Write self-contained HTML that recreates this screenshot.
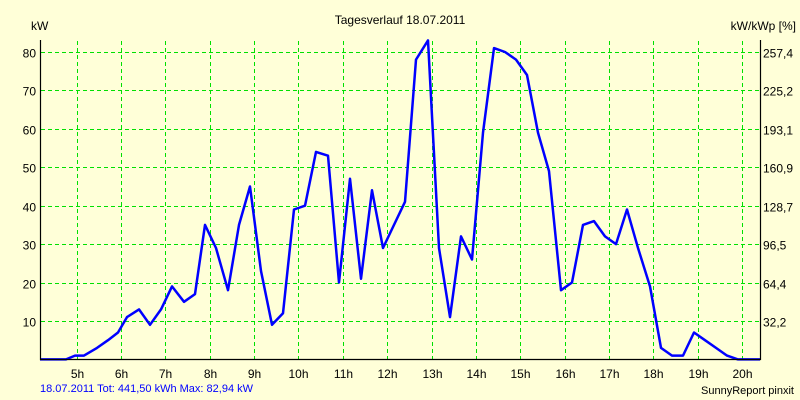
<!DOCTYPE html>
<html><head><meta charset="utf-8"><style>
body{margin:0;background:#ffffd8;}
svg{display:block;font-family:"Liberation Sans",sans-serif;}
</style></head><body>
<svg id="s" width="800" height="400" xmlns="http://www.w3.org/2000/svg">
<rect width="800" height="400" fill="#ffffd8"/>
<text x="400" y="24" font-size="12" text-anchor="middle">Tagesverlauf 18.07.2011</text>
<text x="31" y="30" font-size="12">kW</text>
<text x="796" y="30" font-size="12" text-anchor="end">kW/kWp [%]</text>
<g id="grid" stroke="#00e000" stroke-width="1" stroke-dasharray="4,3"></g>
<g id="lab" font-size="12"></g>
<polyline id="p" fill="none" stroke="#0000ff" stroke-width="2.5" stroke-linejoin="round"/>
<path d="M40.5,40 V359.5 H760.5 V40" fill="none" stroke="#000" stroke-width="1.2"/>
<text x="40" y="392" font-size="11" fill="#0000ff">18.07.2011 Tot: 441,50 kWh Max: 82,94 kW</text>
<text x="794" y="394" font-size="11" text-anchor="end">SunnyReport pinxit</text>
</svg>
<script>
var ns="http://www.w3.org/2000/svg",g=document.getElementById('grid'),lab=document.getElementById('lab');
function el(t,a,p,tx){var e=document.createElementNS(ns,t);for(var k in a)e.setAttribute(k,a[k]);if(tx)e.textContent=tx;p.appendChild(e);}
function Y(v){return 359.4-v*3.843;}
var rl=["32,2","64,4","96,5","128,7","160,9","193,1","225,2","257,4"];
for(var i=1;i<=8;i++){var y=Math.round(Y(i*10))+0.5;
el('line',{x1:41,x2:760,y1:y,y2:y},g);
el('text',{x:36,y:y+5,'text-anchor':'end'},lab,String(i*10));
el('text',{x:763,y:y+5},lab,rl[i-1]);}
for(var h=5;h<=20;h++){var x=Math.round(76.7+(h-5)*44.35)+0.5;
el('line',{x1:x,x2:x,y1:41,y2:359},g);
el('text',{x:x,y:378,'text-anchor':'middle'},lab,h+'h');}
var d=[40,0,66,0,75,1,84,1,97,3,108,5,118,7,127,11,139,13,150,9,161,13,172,19,184,15,195,17,205,35,216,29,228,18,239,35,250,45,261,23,272,9,283,12,294,39,305,40,316,54,328,53,339,20,350,47,361,21,372,44,383,29,394,35,405,41,416,78,428,83,439,29,450,11,461,32,472,26,483,59,494,81,505,80,516,78,527,74,538,59,549,49,561,18,572,20,583,35,594,36,605,32,616,30,627,39,638,29,650,19,661,3,672,1,683,1,694,7,705,5,716,3,727,1,738,0,760,0];
var pts=[];for(var i=0;i<d.length;i+=2)pts.push(d[i]+','+Y(d[i+1]).toFixed(1));
document.getElementById('p').setAttribute('points',pts.join(' '));
</script>
</body></html>
